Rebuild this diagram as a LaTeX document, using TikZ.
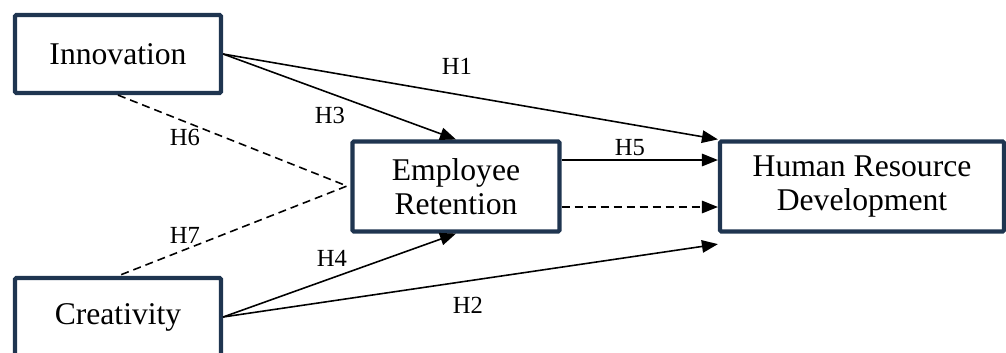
\documentclass[tikz,border=0pt]{standalone}
\usepackage{fontspec}
\setmainfont{Liberation Serif}
\usetikzlibrary{arrows.meta}
\definecolor{boxblue}{HTML}{1F3550}
\begin{document}
\begin{tikzpicture}[x=0.02cm,y=-0.02cm,
	construct/.style={draw=boxblue, line width=2.4pt, rounded corners=0.8pt, fill=white, align=center, inner sep=0pt, font=\rmfamily\fontsize{18}{19}\selectfont},
	link/.style={line width=0.9pt, -{Triangle[length=0.32cm,width=0.25cm]}},
	medlink/.style={line width=0.9pt, dash pattern=on 0.16cm off 0.1cm},
	hyp/.style={font=\rmfamily\fontsize{14}{16}\selectfont}]
		% the frame of the page
		\clip (0,0) rectangle (1006,352);
		
		\node[construct, minimum width=4.12cm, minimum height=1.56cm] (inno) at (118,54) {Innovation};
		\node[construct, minimum width=4.12cm, minimum height=1.56cm] (cre) at (118,317) {Creativity};
		\node[construct, minimum width=4.14cm, minimum height=1.8cm] (er) at (456,186.5) {Employee\\Retention};
		\node[construct, minimum width=5.68cm, minimum height=1.8cm] (hrd) at (862,186.5) {Human Resource\\Development};
		
		\coordinate (meet) at (347,186);
		
		\draw[link] (inno.east) -- (hrd.north west);
		\draw[link] (inno.east) -- (er.north);
		\draw[link] (cre.east) -- (er.south);
		\draw[link] (cre.east) -- ([yshift=-0.21cm]hrd.south west);
		\draw[link] ([yshift=0.53cm]er.east) -- ([yshift=0.53cm]hrd.west);
		\draw[link, dash pattern=on 0.16cm off 0.1cm] ([yshift=-0.41cm]er.east) -- ([yshift=-0.41cm]hrd.west);
		
		\draw[medlink] (inno.south) -- (meet) -- (cre.north);
		%\draw[help lines] (0,0) grid[step=50] (1006,352);
		
		\node[hyp] (h1) at (457,66) {H1};
		\node[hyp] (h2) at (468,305) {H2};
		\node[hyp] (h3) at (330,115) {H3};
		\node[hyp] (h4) at (332,258) {H4};
		\node[hyp] (h5) at (630,148) {H5};
		\node[hyp] (h6) at (185,137) {H6};
		\node[hyp] (h7) at (185,235) {H7};
	\end{tikzpicture}
\end{document}
